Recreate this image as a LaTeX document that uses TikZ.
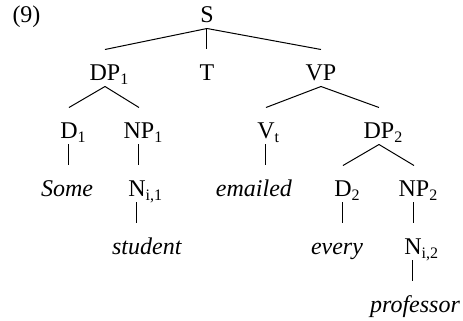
\documentclass[tikz,border=0pt]{standalone}
\usepackage{fontspec}
\setmainfont{Liberation Serif}
\usepackage{tikz}
\usetikzlibrary{positioning,calc}
\newcommand{\subidx}[1]{\rlap{\textsubscript{#1}}}
\tikzset{lbl/.style={anchor=base,inner sep=0pt,text height=8.5pt,text depth=2.5pt}}

\begin{document}
\begin{tikzpicture}[x=0.5pt,y=-0.5pt,line width=0.5pt,font=\fontsize{12}{14}\selectfont]
        \useasboundingbox (0,0) rectangle (463,321);
        \node[lbl,anchor=base west] (num) at (12,23) {(9)};
        % rows
        \node[lbl] (S) at (207,23) {S};
        \node[lbl] (DPa) at (105,81) {DP\subidx{1}};
        \node[lbl] (T) at (207,81) {T};
        \node[lbl] (VP) at (321,81) {VP};
        \node[lbl] (Da) at (69,139) {D\subidx{1}};
        \node[lbl] (NPa) at (139,139) {NP\subidx{1}};
        \node[lbl] (Vt) at (266,139) {V\subidx{t}};
        \node[lbl] (DPb) at (379,139) {DP\subidx{2}};
        \node[lbl] (some) at (67,197) {\textit{Some}};
        \node[lbl] (Na) at (137,197) {N\subidx{i,1}};
        \node[lbl] (emailed) at (254,197) {\textit{emailed}};
        \node[lbl] (Db) at (343,197) {D\subidx{2}};
        \node[lbl] (NPb) at (414,197) {NP\subidx{2}};
        \node[lbl] (student) at (147,255) {\textit{student}};
        \node[lbl] (every) at (337,255) {\textit{every}};
        \node[lbl] (Nb) at (413,255) {N\subidx{i,2}};
        \node[lbl] (professor) at (415,313) {\textit{professor}};
        % branches
        \foreach \p/\c in {S/DPa,S/T,S/VP,DPa/Da,DPa/NPa,VP/Vt,VP/DPb,DPb/Db,DPb/NPb}
            \draw (\p.south) -- ([yshift=7pt]\c.north);
        % unary lines
        \foreach \p/\c in {Da/some,NPa/Na,Vt/emailed,Na/student,Db/every,NPb/Nb,Nb/professor}
            \draw (\p.south) -- ([yshift=7pt]\p.south |- \c.north);
    \end{tikzpicture}
\end{document}
